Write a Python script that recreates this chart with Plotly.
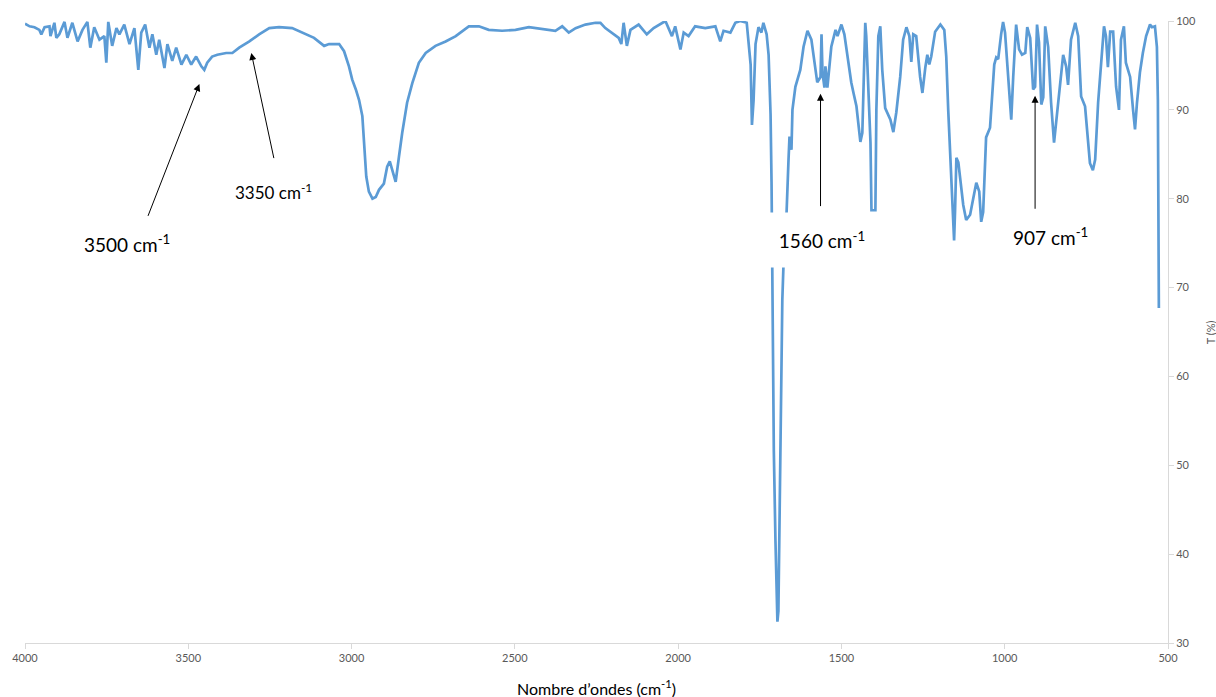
import plotly.graph_objects as go

# IR spectrum (wavenumber in cm-1, transmittance in %)
wavenumber = [
    4000, 3986, 3971, 3956, 3950, 3940, 3925, 3922, 3910, 3904, 3895, 3879, 3870, 3855, 3839,
    3824, 3809, 3800, 3788, 3772, 3757, 3751, 3745, 3733, 3720, 3711, 3696, 3680, 3665, 3653,
    3644, 3632, 3619, 3610, 3598, 3589, 3573, 3564, 3549, 3537, 3521, 3506, 3491, 3476, 3460,
    3451, 3442, 3427, 3411, 3384, 3365, 3344, 3313, 3283, 3252, 3222, 3182, 3151, 3115, 3084,
    3069, 3038, 3023, 3008, 2998, 2987, 2977, 2967, 2962, 2955, 2947, 2936, 2926, 2916, 2901,
    2891, 2883, 2875, 2865, 2855, 2845, 2830, 2814, 2794, 2773, 2743, 2712, 2681, 2661, 2641,
    2610, 2580, 2539, 2498, 2457, 2417, 2376, 2355, 2335, 2314, 2284, 2253, 2238, 2223, 2203,
    2182, 2174, 2167, 2157, 2146, 2121, 2096, 2075, 2050, 2039, 2019, 2009, 1993, 1983, 1968,
    1948, 1917, 1886, 1871, 1861, 1840, 1825, 1810, 1790, 1778, 1774, 1769, 1763, 1754, 1745,
    1739, 1729, 1723, 1717, 1714, 1711, 1707, 1702, 1699, 1696, 1693, 1690, 1685, 1681, 1675,
    1668, 1662, 1659, 1653, 1650, 1641, 1626, 1616, 1604, 1592, 1580, 1574, 1564, 1561, 1558,
    1552, 1549, 1543, 1531, 1518, 1512, 1500, 1491, 1482, 1470, 1463, 1454, 1442, 1436, 1427,
    1424, 1411, 1408, 1396, 1393, 1387, 1381, 1375, 1366, 1350, 1341, 1332, 1320, 1311, 1301,
    1292, 1286, 1280, 1271, 1259, 1252, 1243, 1237, 1231, 1225, 1213, 1197, 1185, 1179, 1173,
    1164, 1158, 1155, 1152, 1148, 1142, 1127, 1118, 1106, 1097, 1087, 1078, 1072, 1066, 1060,
    1057, 1045, 1041, 1032, 1026, 1020, 1011, 1005, 999, 989, 980, 974, 968, 965, 956,
    947, 937, 931, 922, 913, 907, 901, 895, 888, 882, 876, 867, 858, 849, 843,
    830, 821, 812, 806, 797, 784, 775, 766, 754, 745, 739, 730, 723, 714, 705,
    696, 690, 684, 677, 668, 659, 650, 644, 635, 629, 616, 607, 601, 595, 586,
    577, 567, 555, 549, 540, 534, 531, 529, 528,
]

transmittance = [
    99.7, 99.4, 99.3, 99.0, 98.5, 99.3, 99.4, 98.3, 99.8, 98.1, 98.5, 99.9, 98.1, 99.8, 97.7,
    99.0, 99.9, 97.0, 99.3, 97.9, 98.3, 95.3, 99.9, 97.2, 99.2, 98.5, 99.6, 97.4, 99.2, 94.5,
    98.7, 99.6, 97.0, 98.5, 96.2, 97.9, 94.7, 97.4, 95.5, 97.0, 95.1, 96.2, 95.1, 96.0, 94.9,
    94.5, 95.3, 96.0, 96.2, 96.4, 96.4, 97.0, 97.7, 98.5, 99.2, 99.3, 99.2, 98.7, 98.1, 97.2,
    97.4, 97.4, 96.6, 94.9, 93.4, 92.3, 91.1, 89.3, 86.3, 82.5, 80.8, 80.0, 80.2, 81.0, 81.7,
    83.6, 84.2, 83.2, 81.9, 84.7, 87.4, 90.8, 93.0, 95.3, 96.4, 97.2, 97.7, 98.3, 98.9, 99.4,
    99.4, 99.0, 98.9, 99.0, 99.3, 99.1, 98.9, 99.4, 98.7, 99.2, 99.6, 99.8, 99.8, 99.2, 98.7,
    98.1, 97.4, 99.8, 97.2, 99.0, 99.6, 98.5, 99.2, 99.8, 100.0, 98.3, 99.4, 96.8, 98.7, 98.3,
    99.4, 99.2, 99.4, 97.7, 98.9, 98.7, 99.8, 100.0, 99.8, 95.1, 88.3, 91.1, 97.4, 99.3, 98.7,
    99.8, 98.5, 96.2, 89.5, 81.9, 68.6, 51.6, 41.5, 34.7, 32.4, 33.6, 41.5, 55.0, 68.6, 75.2,
    78.4, 84.4, 87.0, 85.5, 90.0, 92.6, 94.5, 97.1, 98.9, 97.9, 94.5, 93.1, 93.7, 98.5, 94.2,
    92.5, 94.9, 92.5, 97.1, 99.0, 98.3, 99.6, 98.5, 96.0, 93.1, 91.9, 90.4, 86.4, 87.4, 99.8,
    98.3, 86.3, 78.7, 78.7, 90.0, 98.3, 99.4, 94.5, 90.2, 88.9, 87.5, 89.7, 93.7, 97.9, 99.3,
    98.3, 95.4, 98.5, 98.3, 93.7, 91.9, 94.8, 96.2, 95.1, 96.0, 98.8, 99.6, 99.0, 96.0, 90.0,
    82.5, 77.9, 75.3, 78.7, 84.6, 84.1, 79.3, 77.6, 78.2, 79.9, 81.8, 80.8, 77.4, 78.5, 84.9,
    86.9, 88.0, 90.6, 95.1, 95.9, 95.7, 98.5, 99.9, 98.7, 93.7, 88.9, 93.7, 98.3, 99.6, 96.8,
    96.2, 96.4, 99.3, 98.1, 92.3, 92.6, 99.6, 97.6, 90.6, 91.4, 99.4, 97.1, 90.8, 86.3, 88.5,
    93.7, 96.2, 94.9, 92.8, 97.9, 99.8, 98.3, 91.5, 90.4, 87.0, 84.0, 83.2, 84.4, 90.8, 95.7,
    99.4, 98.3, 94.8, 98.8, 98.8, 92.6, 90.0, 97.9, 99.4, 95.3, 93.7, 90.0, 87.8, 90.8, 94.2,
    96.4, 98.3, 99.6, 99.3, 99.4, 97.1, 91.1, 79.9, 67.7,
]

x_ticks = [4000, 3500, 3000, 2500, 2000, 1500, 1000, 500]
y_ticks = [30, 40, 50, 60, 70, 80, 90, 100]

peak_labels = ["3500 cm<sup>-1</sup>", "3350 cm<sup>-1</sup>", "1560 cm<sup>-1</sup>", "907 cm<sup>-1</sup>"]
label_size = [19, 17, 19, 19]
label_x = [3687, 3240, 1560, 861]
label_y = [75.0, 80.8, 75.4, 75.8]
arrow_tip_x = [3466, 3307, 1564, 907]
arrow_tip_y = [92.9, 96.4, 91.8, 91.6]
arrow_tail_x = [3625, 3237, 1564, 907]
arrow_tail_y = [77.9, 84.4, 79.0, 78.7]

FONT = "Lato, 'Open Sans', sans-serif"
AXIS_GREY = "#D9D9D9"
TICK_GREY = "#595959"

fig = go.Figure()
fig.add_trace(go.Scatter(
    x=wavenumber, y=transmittance, mode="lines",
    line=dict(color="#5B9BD5", width=2.7),
    showlegend=False, hoverinfo="x+y",
))

annotations = []
for i in range(len(peak_labels)):
    annotations.append(dict(
        x=arrow_tip_x[i], y=arrow_tip_y[i], xref="x", yref="y",
        ax=arrow_tail_x[i], ay=arrow_tail_y[i], axref="x", ayref="y",
        text="", showarrow=True, arrowhead=2, arrowsize=1.4, arrowwidth=1,
        arrowcolor="#000000",
    ))
for i in range(len(peak_labels)):
    ann = dict(
        x=label_x[i], y=label_y[i], xref="x", yref="y",
        text=peak_labels[i], showarrow=False,
        font=dict(family=FONT, size=label_size[i], color="#000000"),
        xanchor="center", yanchor="middle",
    )
    if i == 2:
        ann.update(bgcolor="#FFFFFF", width=102, height=52)
    annotations.append(ann)

annotations.append(dict(
    x=0.5, y=-0.072, xref="paper", yref="paper",
    text="Nombre d’ondes (cm<sup>-1</sup>)", showarrow=False,
    font=dict(family=FONT, size=16, color="#000000"),
    xanchor="center", yanchor="middle",
))
annotations.append(dict(
    x=1.037, y=0.5, xref="paper", yref="paper",
    text="T (%)", showarrow=False, textangle=-90,
    font=dict(family=FONT, size=11, color=TICK_GREY),
    xanchor="center", yanchor="middle",
))

fig.update_layout(
    width=1216, height=697,
    margin=dict(l=25, r=48, t=21, b=54),
    paper_bgcolor="#FFFFFF", plot_bgcolor="#FFFFFF",
    annotations=annotations,
    xaxis=dict(
        range=[4000, 500], tickvals=x_ticks, ticktext=[str(v) for v in x_ticks],
        showgrid=False, zeroline=False, showline=True, linecolor=AXIS_GREY, linewidth=1,
        ticks="outside", ticklen=5, tickcolor=AXIS_GREY,
        tickfont=dict(family=FONT, size=11, color=TICK_GREY),
    ),
    yaxis=dict(
        range=[30, 100], tickvals=y_ticks, side="right",
        showgrid=False, zeroline=False, showline=True, linecolor=AXIS_GREY, linewidth=1,
        ticks="outside", ticklen=5, tickcolor=AXIS_GREY,
        tickfont=dict(family=FONT, size=11, color=TICK_GREY),
    ),
)

fig.write_html(
    "out.html",
    config={"displayModeBar": False},
    post_script="document.body.style.margin='0';document.body.style.overflow='hidden';",
)
